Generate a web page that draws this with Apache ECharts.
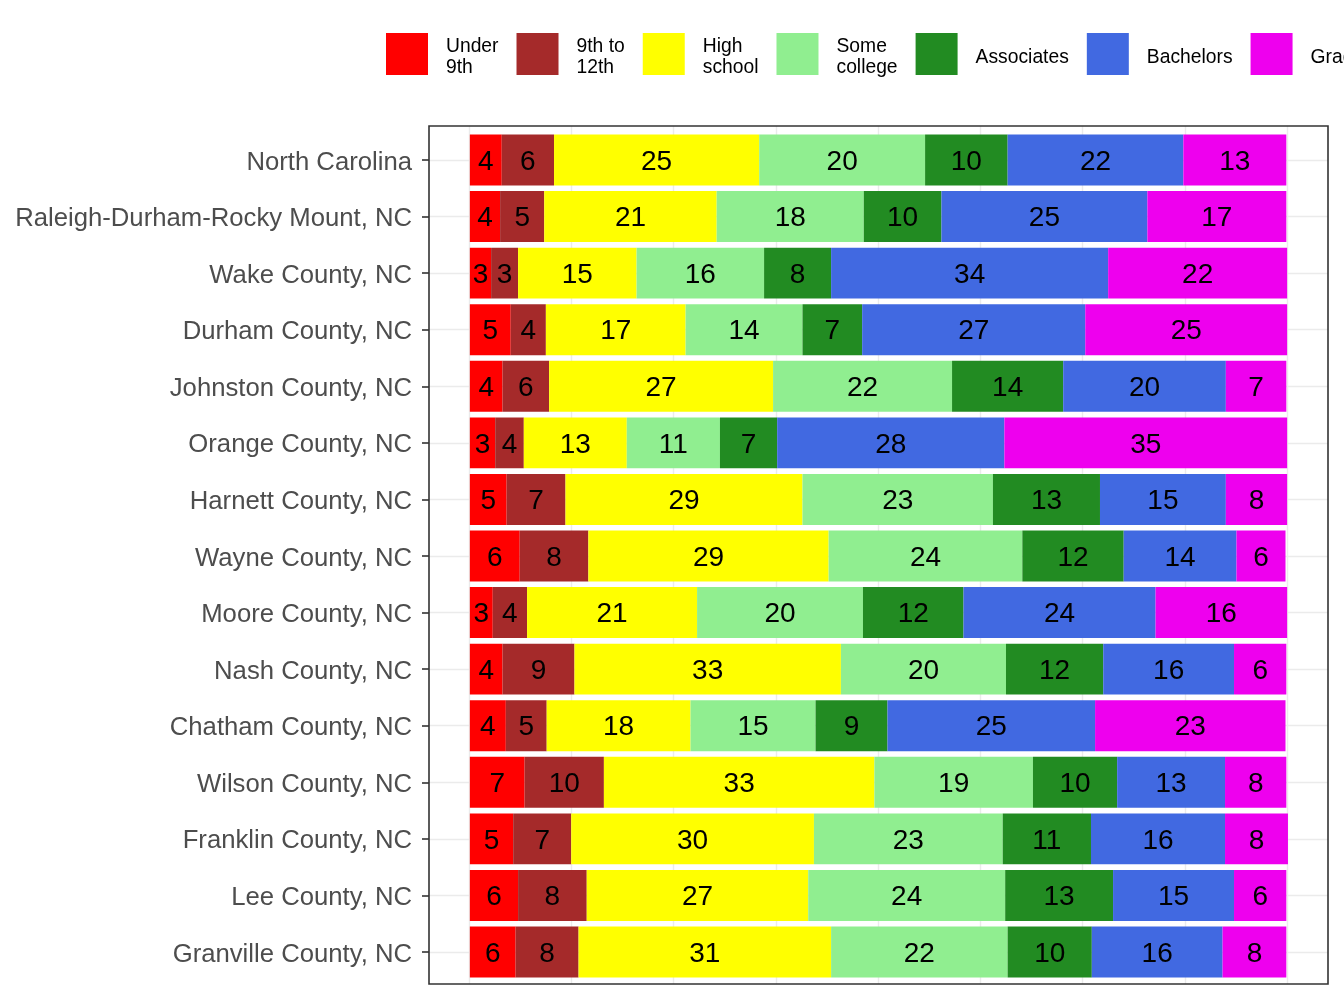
<!DOCTYPE html>
<html>
<head>
<meta charset="utf-8">
<script src="https://cdn.jsdelivr.net/npm/echarts@6/dist/echarts.min.js"></script>
<style>
  html, body { margin: 0; padding: 0; background: #fff; }
  #chart { width: 1344px; height: 1008px; }
</style>
</head>
<body>
<div id="chart"></div>
<script>
'use strict';

// areas, top to bottom
var areas = [
  'North Carolina', 'Raleigh-Durham-Rocky Mount, NC', 'Wake County, NC', 'Durham County, NC',
  'Johnston County, NC', 'Orange County, NC', 'Harnett County, NC', 'Wayne County, NC',
  'Moore County, NC', 'Nash County, NC', 'Chatham County, NC', 'Wilson County, NC',
  'Franklin County, NC', 'Lee County, NC', 'Granville County, NC'
];

var levels = ['Under\n9th', '9th to\n12th', 'High\nschool', 'Some\ncollege', 'Associates', 'Bachelors', 'Graduate'];
var colors = ['#FF0000', '#A52A2A', '#FFFF00', '#90EE90', '#228B22', '#4169E1', '#EE00EE'];

// share of adults (%) per education level, one array per level, same order as areas
var under9th    = [3.9, 3.7, 2.6, 5.0, 4.0, 3.1, 4.5, 6.1, 2.8, 4.0, 4.4, 6.7, 5.3, 5.9, 5.6];
var grade9to12  = [6.4, 5.4, 3.3, 4.3, 5.7, 3.5, 7.2, 8.4, 4.2, 8.8, 5.0, 9.7, 7.1, 8.4, 7.7];
var highSchool  = [25.1, 21.1, 14.5, 17.1, 27.4, 12.6, 29.0, 29.4, 20.8, 32.6, 17.6, 33.1, 29.7, 27.1, 30.9];
var someCollege = [20.3, 18.0, 15.6, 14.3, 21.9, 11.4, 23.3, 23.7, 20.3, 20.2, 15.3, 19.4, 23.1, 24.1, 21.6];
var associates  = [10.1, 9.5, 8.2, 7.3, 13.6, 7.0, 13.1, 12.4, 12.3, 11.9, 8.8, 10.3, 10.8, 13.2, 10.3];
var bachelors   = [21.5, 25.2, 33.9, 27.3, 19.9, 27.8, 15.4, 13.8, 23.5, 16.0, 25.4, 13.2, 16.4, 14.8, 16.0];
var graduate    = [12.6, 17.0, 21.9, 24.7, 7.4, 34.6, 7.5, 6.0, 16.1, 6.4, 23.3, 7.5, 7.7, 6.4, 7.8];

var seriesValues = [under9th, grade9to12, highSchool, someCollege, associates, bachelors, graduate];

var font = 'Liberation Sans, Arial, sans-serif';

var series = levels.map(function (name, i) {
  return {
    name: name,
    type: 'bar',
    stack: 'total',
    xAxisIndex: 1,
    yAxisIndex: 1,
    barWidth: '90%',
    clip: false,
    itemStyle: { color: colors[i] },
    label: {
      show: true,
      position: 'inside',
      offset: [0, 2],
      color: '#000',
      fontSize: 28,
      fontFamily: font,
      formatter: function (p) { return Math.round(p.value); }
    },
    emphasis: { disabled: true },
    data: seriesValues[i]
  };
});

var chart = echarts.init(document.getElementById('chart'), null, { renderer: 'canvas' });

var option = {
  backgroundColor: '#fff',
  animation: false,
  legend: {
    left: 386,
    top: 33,
    width: 1600,
    orient: 'horizontal',
    // square key sitting in the top of a slightly taller slot, so the text lands a bit lower
    icon: 'path://M0,49L0,49M0,0L42,0L42,42L0,42Z',
    itemWidth: 42,
    itemHeight: 49,
    itemGap: 18,
    padding: 0,
    data: levels,
    textStyle: {
      fontSize: 19.3,
      lineHeight: 21,
      color: '#000',
      fontFamily: font,
      padding: [0, 0, 0, 13]
    }
  },
  grid: [
    // vertical grid lines, inside the data range
    { left: 469, right: 57, top: 126, bottom: 24 },
    // panel with category labels, ticks and horizontal grid lines
    { left: 429, right: 16, top: 160, bottom: 56 }
  ],
  xAxis: [
    {
      type: 'value', gridIndex: 0, min: 0, max: 100, interval: 12.5,
      axisLabel: { show: false }, axisLine: { show: false }, axisTick: { show: false },
      splitLine: { show: true, lineStyle: { color: '#EBEBEB', width: 1.4 } }
    },
    {
      type: 'value', gridIndex: 1, min: -5, max: 105,
      show: false, splitLine: { show: false }
    }
  ],
  yAxis: [
    {
      type: 'value', gridIndex: 0, show: false, splitLine: { show: false }
    },
    {
      type: 'category', gridIndex: 1, data: areas, inverse: true, boundaryGap: false,
      position: 'left',
      axisLine: { show: false, onZero: false },
      axisTick: { show: true, length: 7, lineStyle: { color: '#333333', width: 1.6 } },
      axisLabel: {
        interval: 0, fontSize: 25.7, color: '#4D4D4D', fontFamily: font, margin: 17,
        verticalAlign: 'top', lineHeight: 5
      },
      splitLine: { show: true, lineStyle: { color: '#EBEBEB', width: 1.4 } }
    }
  ],
  graphic: [{
    type: 'rect',
    shape: { x: 429, y: 126, width: 899, height: 858 },
    style: { fill: null, stroke: '#333333', lineWidth: 1.6 },
    z: 100,
    silent: true
  }],
  series: series
};

chart.setOption(option);
window.addEventListener('resize', function () {
  chart.resize();
});
</script>
</body>
</html>
